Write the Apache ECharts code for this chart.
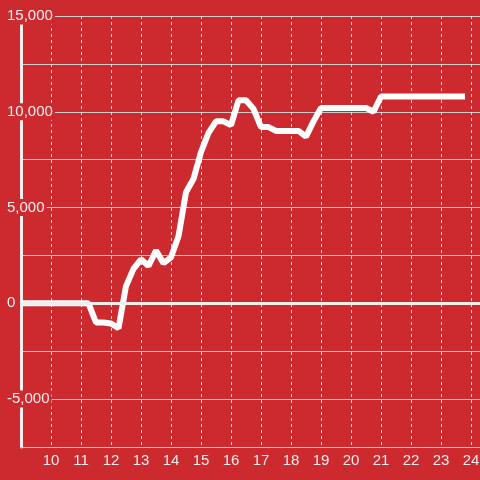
<!DOCTYPE html>
<html>
<head>
<meta charset="utf-8">
<script src="https://cdn.jsdelivr.net/npm/echarts@6/dist/echarts.min.js"></script>
<style>
  html, body { margin: 0; padding: 0; background: #cd2a2f; }
  #chart { width: 480px; height: 480px; }
</style>
</head>
<body>
<div id="chart"></div>
<script>
// 读图得到的数据 (小时, 数值)
var hours = [9, 11.25, 11.5, 11.75, 12, 12.25, 12.5, 12.75, 13, 13.25, 13.5, 13.75,
    14, 14.25, 14.5, 14.75, 15, 15.25, 15.5, 15.75, 16, 16.25, 16.5, 16.75,
    17, 17.25, 17.5, 18.25, 18.5, 18.75, 19, 20.5, 20.75, 21, 23.8];
var values = [0, 0, -1000, -1000, -1050, -1300, 900, 1800, 2300, 1950, 2750, 2100,
    2400, 3500, 5800, 6500, 7900, 8900, 9500, 9500, 9300, 10600, 10600, 10150,
    9200, 9200, 9000, 9000, 8700, 9500, 10200, 10200, 10000, 10800, 10800];
var yTickLabels = [-5000, 0, 5000, 10000, 15000];
var xTickLabels = [10, 11, 12, 13, 14, 15, 16, 17, 18, 19, 20, 21, 22, 23, 24];

var bg = '#cd2a2f';
var txt = '#eeeeee';

var dom = document.getElementById('chart');
var myChart = echarts.init(dom, null, {renderer: 'canvas'});

var pts = [];
for (var i = 0; i < hours.length; i++) {
    pts.push([hours[i], values[i]]);
}

function fmtNum(v) {
    var s = String(Math.abs(v)).replace(/\B(?=(\d{3})+(?!\d))/g, ',');
    return (v < 0 ? '-' : '') + s;
}

var option = {
    backgroundColor: bg,
    animation: false,
    grid: {
        left: 21,
        right: 0,
        top: 16,
        bottom: 33,
        containLabel: false,
        outerBoundsMode: 'none'
    },
    xAxis: {
        type: 'value',
        min: 9,
        max: 24.3,
        interval: 1,
        axisLine: {
            show: true,
            onZero: false,
            lineStyle: {color: '#cccccc', width: 1}
        },
        axisTick: {show: false},
        axisLabel: {
            color: txt,
            fontSize: 15,
            fontFamily: 'Liberation Sans',
            margin: 6,
            showMinLabel: false,
            formatter: function (v) {
                return xTickLabels.indexOf(v) >= 0 ? String(v) : '';
            }
        },
        splitLine: {
            show: true,
            lineStyle: {color: '#dddddd', width: 1, type: [3, 3]}
        }
    },
    yAxis: {
        type: 'value',
        min: -7500,
        max: 15000,
        interval: 2500,
        axisLine: {
            show: true,
            onZero: false,
            lineStyle: {color: '#eeeeee', width: 3}
        },
        axisTick: {show: false},
        axisLabel: {
            align: 'left',
            margin: 16,
            formatter: function (v) {
                return yTickLabels.indexOf(v) >= 0 ? '{a|' + fmtNum(v) + '}' : '';
            },
            rich: {
                a: {
                    color: txt,
                    fontSize: 15,
                    fontFamily: 'Liberation Sans',
                    backgroundColor: bg,
                    padding: [1, 2, 1, 2]
                }
            }
        },
        splitLine: {
            show: true,
            lineStyle: {color: '#cccccc', width: 1}
        }
    },
    series: [
        {
            type: 'line',
            data: pts,
            symbol: 'none',
            lineStyle: {color: '#ffffff', width: 6},
            markLine: {
                silent: true,
                symbol: 'none',
                label: {show: false},
                lineStyle: {color: '#eeeeee', width: 3, type: 'solid'},
                data: [{yAxis: 0}]
            }
        }
    ]
};

myChart.setOption(option);
</script>
</body>
</html>
